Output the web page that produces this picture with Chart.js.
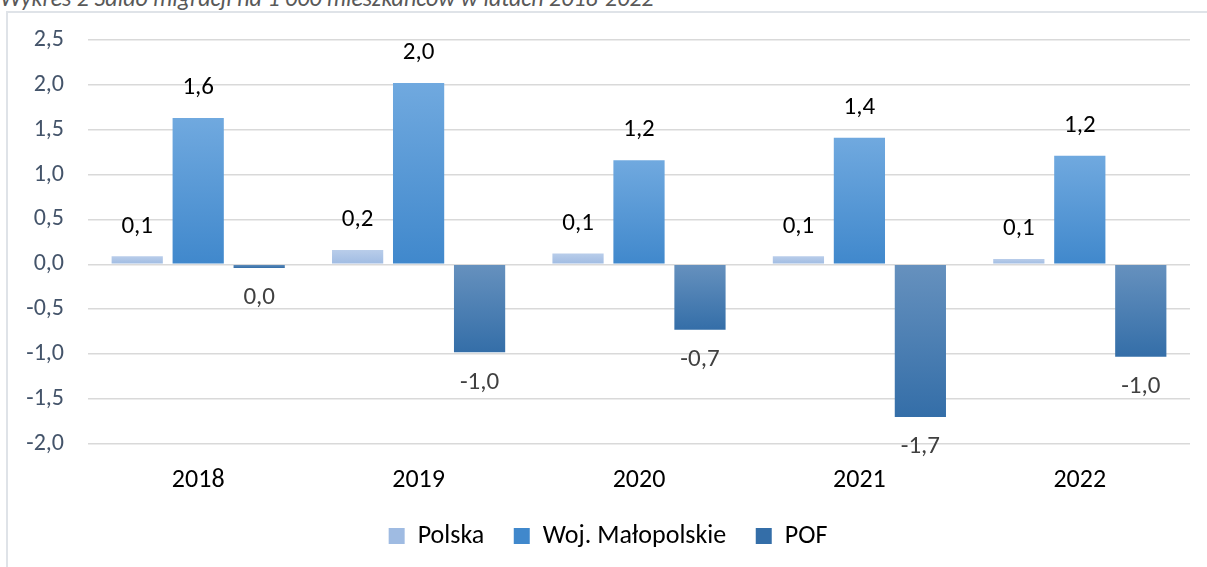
<!DOCTYPE html>
<html>
<head>
<meta charset="utf-8">
<script src="https://cdn.jsdelivr.net/npm/chart.js@4"></script>
<style>
  body { margin: 0; background: #fff; overflow: hidden; }
  #title { position: absolute; left: 0; top: -17px; font: italic 24px Carlito, Lato, sans-serif; color: #595959; white-space: nowrap; }
  #frame { position: absolute; left: 6px; top: 11px; width: 1220px; height: 600px; border: 2px solid #dfe3e8; box-sizing: border-box; }
  #wrap { position: absolute; left: 0; top: 0; width: 1207px; height: 567px; }
</style>
</head>
<body>
<div id="title">Wykres 2 Saldo migracji na 1 000 mieszkańców w latach 2018-2022</div>
<div id="frame"></div>
<div id="wrap"><canvas id="chart"></canvas></div>
<script>
const years = ["2018", "2019", "2020", "2021", "2022"];
const polska = [0.09, 0.16, 0.12, 0.09, 0.06];
const malopolskie = [1.63, 2.02, 1.16, 1.41, 1.21];
const pof = [-0.04, -0.98, -0.73, -1.70, -1.03];
const seriesNames = ["Polska", "Woj. Małopolskie", "POF"];
const yTicks = [2.5, 2.0, 1.5, 1.0, 0.5, 0.0, -0.5, -1.0, -1.5, -2.0];

const fontFamily = "Carlito, Lato, sans-serif";

function fmt(v) {
  let s = v.toFixed(1);
  if (s === "-0.0") s = "0.0";
  return s.replace(".", ",");
}

// gradient per bar, lighter at the zero line side
function barGradient(light, dark, solid) {
  return function (c) {
    if (c.type !== "data") return solid;
    const chart = c.chart;
    if (!chart.chartArea) return solid;
    const y = chart.scales.y;
    const y0 = y.getPixelForValue(0), y1 = y.getPixelForValue(c.raw);
    const top = Math.min(y0, y1), bot = Math.max(y0, y1);
    const g = chart.ctx.createLinearGradient(0, top, 0, bot + 0.01);
    g.addColorStop(0, light);
    g.addColorStop(1, dark);
    return g;
  };
}

const labelPlugin = {
  id: "barLabels",
  afterDatasetsDraw(chart) {
    const ctx = chart.ctx;
    ctx.save();
    ctx.font = "25px " + fontFamily;
    ctx.textAlign = "center";
    ctx.textBaseline = "middle";
    chart.data.datasets.forEach((ds, i) => {
      const meta = chart.getDatasetMeta(i);
      meta.data.forEach((bar, j) => {
        const v = ds.data[j];
        ctx.fillStyle = i === 2 ? "#404040" : "#000000";
        const ty = v >= 0 ? bar.y - 30 : bar.y + 30;
        ctx.fillText(fmt(v), bar.x, ty);
      });
    });
    ctx.restore();
  }
};

new Chart(document.getElementById("chart"), {
  type: "bar",
  data: {
    labels: years,
    datasets: [
      { label: seriesNames[0], data: polska, backgroundColor: barGradient("#b9cdea", "#9fbbe2", "#aac4e6") },
      { label: seriesNames[1], data: malopolskie, backgroundColor: barGradient("#70a9df", "#4088cc", "#5597d6") },
      { label: seriesNames[2], data: pof, backgroundColor: barGradient("#6691be", "#346ea8", "#4a7fb5") }
    ]
  },
  options: {
    responsive: true,
    maintainAspectRatio: false,
    animation: false,
    categoryPercentage: 0.83,
    barPercentage: 0.84,
    layout: { padding: { left: 26, right: 17, top: 40, bottom: 8 } },
    scales: {
      x: {
        grid: { display: false, drawTicks: false },
        border: { display: false },
        ticks: { color: "#000", font: { family: fontFamily, size: 26 }, padding: 21 }
      },
      y: {
        min: -2, max: 2.5,
        afterBuildTicks: s => { s.ticks = yTicks.map(v => ({ value: v })); },
        afterFit: s => { s.width = 62; },
        grid: { color: "#d9d9d9", lineWidth: 1.5, drawTicks: false },
        border: { display: false },
        ticks: { color: "#44546a", font: { family: fontFamily, size: 24 }, padding: 24, callback: v => fmt(v) }
      }
    },
    plugins: {
      tooltip: { enabled: false },
      legend: {
        position: "bottom",
        labels: {
          boxWidth: 16, boxHeight: 16, padding: 6, color: "#000", font: { family: fontFamily, size: 26 },
          // wider gap between legend items without extra vertical space
          generateLabels: chart => Chart.defaults.plugins.legend.labels.generateLabels(chart)
            .map((l, i, arr) => (i < arr.length - 1 ? { ...l, text: l.text + "    " } : l))
        }
      }
    }
  },
  plugins: [labelPlugin]
});
</script>
</body>
</html>
